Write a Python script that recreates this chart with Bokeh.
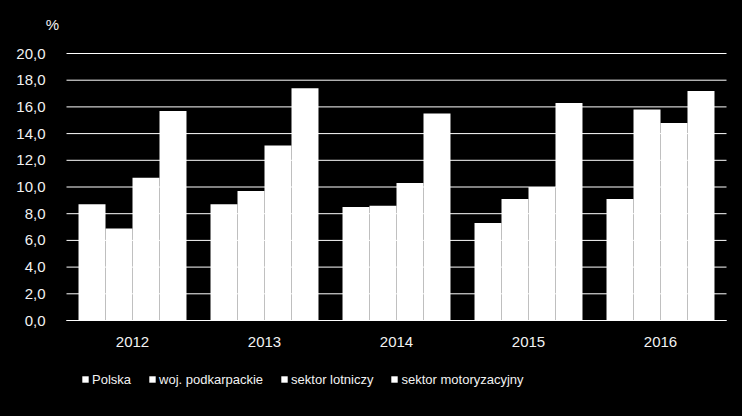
from bokeh.plotting import figure
from bokeh.models import ColumnDataSource, Range1d, FixedTicker, Legend, LegendItem, Label
from bokeh.transform import dodge
from bokeh.embed import file_html
from bokeh.resources import INLINE

years = ["2012", "2013", "2014", "2015", "2016"]
polska = [8.7, 8.7, 8.5, 7.3, 9.1]
podkarpackie = [6.9, 9.7, 8.6, 9.1, 15.8]
lotniczy = [10.7, 13.1, 10.3, 10.0, 14.8]
motoryzacyjny = [15.7, 17.4, 15.5, 16.3, 17.2]
series_names = ["Polska", "woj. podkarpackie", "sektor lotniczy", "sektor motoryzacyjny"]
y_ticks = [0, 2, 4, 6, 8, 10, 12, 14, 16, 18, 20]
y_tick_labels = ["0,0", "2,0", "4,0", "6,0", "8,0", "10,0", "12,0", "14,0", "16,0", "18,0", "20,0"]

xi = list(range(len(years)))
src = ColumnDataSource(dict(xi=xi, s0=polska, s1=podkarpackie, s2=lotniczy, s3=motoryzacyjny))

FONT = "'Liberation Sans', Arial, sans-serif"

# layout in pixels
W, H = 742, 416
PLOT_L, PLOT_R = 66, 726           # horizontal extent of the category area
ZERO_PX, TOP_PX = 320, 53          # pixel rows of 0 and 20 on the value axis
cat_px = (PLOT_R - PLOT_L) / len(years)
px_per_unit = (ZERO_PX - TOP_PX) / 20.0
x_lo, x_hi = -0.5, len(years) - 0.5
x_range = Range1d(x_lo - PLOT_L / cat_px, x_hi + (W - PLOT_R) / cat_px)
y_range = Range1d(-(H - ZERO_PX) / px_per_unit, 20 + TOP_PX / px_per_unit)

p = figure(x_range=x_range, y_range=y_range, width=W, height=H,
           output_backend="svg", toolbar_location=None,
           min_border_left=0, min_border_right=0, min_border_top=0, min_border_bottom=0)
p.background_fill_color = "black"
p.border_fill_color = "black"
p.outline_line_color = None
p.xgrid.visible = False
p.ygrid.visible = False

# horizontal grid lines across the category area
p.segment(x0=[x_lo] * len(y_ticks), x1=[x_hi] * len(y_ticks), y0=y_ticks, y1=y_ticks,
          line_color="white", line_width=1)

bw = 0.2045
offsets = [-1.5 * bw, -0.5 * bw, 0.5 * bw, 1.5 * bw]
renderers = []
for i, off in enumerate(offsets):
    r = p.vbar(x=dodge("xi", off), top="s%d" % i, width=bw, bottom=0,
               source=src, fill_color="white", line_color=None)
    renderers.append(r)

p.yaxis.fixed_location = x_lo
p.yaxis.ticker = FixedTicker(ticks=y_ticks)
p.yaxis.major_label_overrides = {t: l for t, l in zip(y_ticks, y_tick_labels)}
p.yaxis.axis_line_color = None
p.yaxis.major_tick_line_color = None
p.yaxis.minor_tick_line_color = None
p.yaxis.major_label_standoff = 15
p.yaxis.major_label_text_color = "#f2f2f2"
p.yaxis.major_label_text_font = FONT
p.yaxis.major_label_text_font_size = "15px"

p.xaxis.fixed_location = 0
p.xaxis.bounds = (x_lo, x_hi)
p.xaxis.ticker = FixedTicker(ticks=xi)
p.xaxis.major_label_overrides = {i: y for i, y in zip(xi, years)}
p.xaxis.axis_line_color = "white"
p.xaxis.axis_line_width = 1
p.xaxis.major_tick_line_color = None
p.xaxis.minor_tick_line_color = None
p.xaxis.major_label_standoff = 10
p.xaxis.major_label_text_color = "#f2f2f2"
p.xaxis.major_label_text_font = FONT
p.xaxis.major_label_text_font_size = "15px"

items = [LegendItem(label=n, renderers=[r]) for n, r in zip(series_names, renderers)]
legend = Legend(items=items, orientation="horizontal", location=(81, 29),
                glyph_width=8, glyph_height=8, label_standoff=3, spacing=17,
                padding=0, margin=0, label_height=16,
                label_text_font=FONT, label_text_font_size="13px",
                label_text_color="#f2f2f2",
                background_fill_alpha=0, border_line_alpha=0)
p.add_layout(legend, "center")

pct = Label(x=52, y=H - 24, x_units="screen", y_units="screen", text="%",
            text_align="center", text_baseline="middle",
            text_font=FONT, text_font_size="15px", text_color="#f2f2f2")
p.add_layout(pct)

html = file_html(p, INLINE).replace("<head>", "<head><style>html,body{background:#000;}</style>", 1)
open("out.html", "w").write(html)
